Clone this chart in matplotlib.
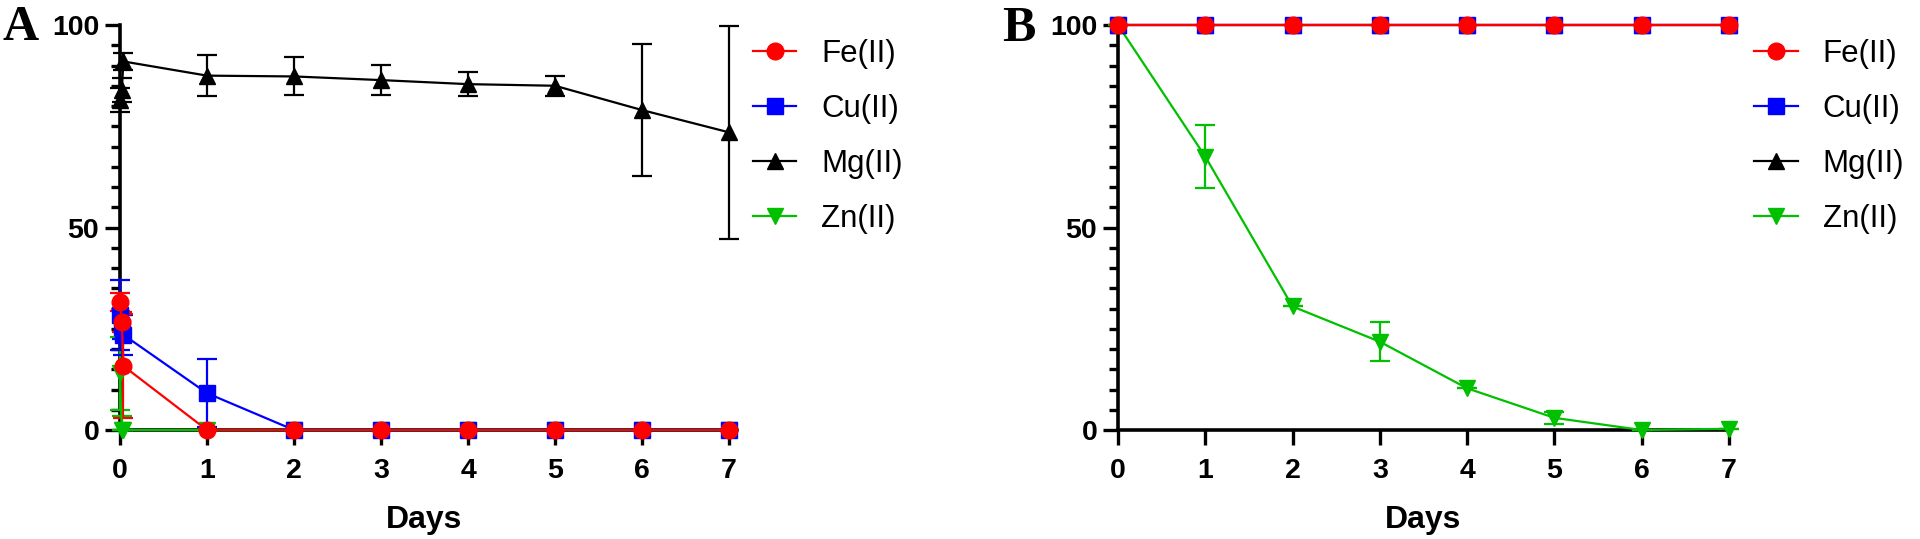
import matplotlib
matplotlib.use("Agg")
import matplotlib.pyplot as plt
from matplotlib.ticker import MultipleLocator
from matplotlib.lines import Line2D

# ---------------- data ----------------
# Panel A (early points at x ~ 0 are within the first hour)
days_a = [0.0, 0.02, 0.04, 1, 2, 3, 4, 5, 6, 7]
fe_a = [31.6, 26.7, 15.8, 0, 0, 0, 0, 0, 0, 0]
fe_a_err = [2.2, 2.4, 12.8, 0, 0, 0, 0, 0, 0, 0]
cu_a = [28.4, 25.5, 23.5, 9.1, 0, 0, 0, 0, 0, 0]
cu_a_err = [8.6, 3.0, 5.0, 8.4, 0, 0, 0, 0, 0, 0]
mg_a = [81.5, 84.0, 91.0, 87.5, 87.3, 86.4, 85.4, 85.0, 79.0, 73.5]
mg_a_err = [3.0, 3.0, 2.0, 5.0, 4.7, 3.7, 3.0, 2.5, 16.4, 26.3]
zn_a = [14.0, 0, 0, 0, 0, 0, 0, 0, 0, 0]
zn_a_err = [9.0, 3.4, 0, 0, 0, 0, 0, 0, 0, 0]

# Panel B
days_b = [0, 1, 2, 3, 4, 5, 6, 7]
fe_b = [100, 100, 100, 100, 100, 100, 100, 100]
cu_b = [100, 100, 100, 100, 100, 100, 100, 100]
mg_b = [100, 100, 100, 100, 100, 100, 100, 100]
zn_b = [100, 67.5, 30.5, 21.8, 10.3, 3.0, 0.0, 0.3]
zn_b_err = [0, 7.7, 0, 4.8, 0, 1.5, 0, 0]

labels = ["Fe(II)", "Cu(II)", "Mg(II)", "Zn(II)"]
xticks = [0, 1, 2, 3, 4, 5, 6, 7]
yticks = [0, 50, 100]

# ---------------- style ----------------
RED = "#FF0000"
BLUE = "#0000FF"
BLACK = "#000000"
GREEN = "#00C000"
styles = {
    "Fe(II)": dict(color=RED, marker="o", ms=12),
    "Cu(II)": dict(color=BLUE, marker="s", ms=11.5),
    "Mg(II)": dict(color=BLACK, marker="^", ms=12),
    "Zn(II)": dict(color=GREEN, marker="v", ms=12),
}

FONT = "Liberation Sans"
TICK_SIZE = 20.5
LABEL_SIZE = 23

fig = plt.figure(figsize=(19.2, 5.39), dpi=100)
axA = fig.add_axes([0.0625, 0.2022, 0.3172, 0.7514])
axB = fig.add_axes([0.5823, 0.2022, 0.3182, 0.7514])


def draw(ax, x, y, err, name):
    st = styles[name]
    yerr = None
    if err is not None:
        lower = [min(e, v) for e, v in zip(err, y)]
        yerr = [lower, err]
    ax.errorbar(x, y, yerr=yerr, color=st["color"], marker=st["marker"],
                ms=st["ms"], mec=st["color"], mfc=st["color"], lw=1.6,
                elinewidth=1.6, capsize=7, capthick=1.6, clip_on=False,
                zorder=3)


def style_axes(ax):
    ax.set_xlim(0, 7)
    ax.set_ylim(0, 100)
    for s in ["top", "right"]:
        ax.spines[s].set_visible(False)
    for s in ["left", "bottom"]:
        ax.spines[s].set_linewidth(2.6)
        ax.spines[s].set_zorder(2)
    ax.set_xticks(xticks)
    ax.set_yticks(yticks)
    ax.yaxis.set_minor_locator(MultipleLocator(5))
    ax.tick_params(axis="both", which="major", length=11, width=2.4,
                   direction="out", pad=4)
    ax.tick_params(axis="x", which="major", pad=9)
    ax.tick_params(axis="y", which="minor", length=6.5, width=2.4,
                   direction="out")
    for lab in ax.get_xticklabels() + ax.get_yticklabels():
        lab.set_fontfamily(FONT)
        lab.set_fontweight("bold")
        lab.set_fontsize(TICK_SIZE)
    ax.set_xlabel("Days", fontfamily=FONT, fontweight="bold",
                  fontsize=LABEL_SIZE, labelpad=15)


# Panel A
draw(axA, days_a, zn_a, zn_a_err, "Zn(II)")
draw(axA, days_a, mg_a, mg_a_err, "Mg(II)")
draw(axA, days_a, cu_a, cu_a_err, "Cu(II)")
draw(axA, days_a, fe_a, fe_a_err, "Fe(II)")
style_axes(axA)

# Panel B
draw(axB, days_b, zn_b, zn_b_err, "Zn(II)")
draw(axB, days_b, mg_b, None, "Mg(II)")
draw(axB, days_b, cu_b, None, "Cu(II)")
draw(axB, days_b, fe_b, None, "Fe(II)")
style_axes(axB)

# Legends
handles = [Line2D([], [], color=styles[n]["color"], marker=styles[n]["marker"],
                  ms=styles[n]["ms"], lw=1.6) for n in labels]
for xleg in (0.392, 0.9135):
    fig.legend(handles, labels, loc="upper left",
               bbox_to_anchor=(xleg, 0.928), frameon=False,
               prop=dict(family=FONT, size=22.5),
               handlelength=1.4, handletextpad=0.8, labelspacing=0.8,
               borderaxespad=0, borderpad=0)

# Panel letters
fig.text(0.0015, 0.926, "A", fontfamily="Liberation Serif", fontweight="bold",
         fontsize=36, va="baseline", ha="left")
fig.text(0.5222, 0.924, "B", fontfamily="Liberation Serif", fontweight="bold",
         fontsize=36, va="baseline", ha="left")

fig.savefig("out.png", dpi=100)
